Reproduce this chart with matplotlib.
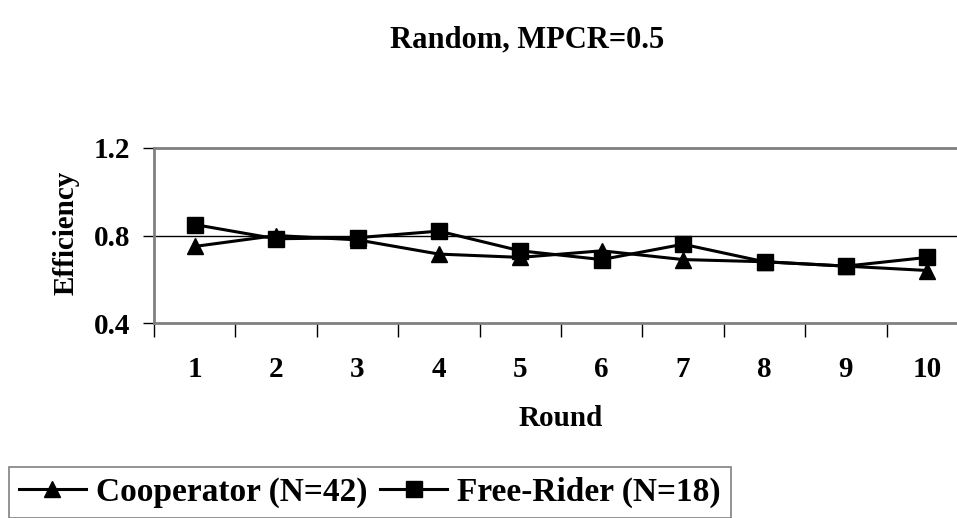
import numpy as np
import matplotlib.pyplot as plt

plt.rcParams['font.family'] = ['Liberation Serif', 'DejaVu Serif']
plt.rcParams['font.weight'] = 'bold'

rounds = np.arange(1, 11)
cooperator = [0.75, 0.80, 0.78, 0.715, 0.70, 0.73, 0.69, 0.68, 0.66, 0.64]
free_rider = [0.85, 0.785, 0.79, 0.82, 0.73, 0.69, 0.76, 0.68, 0.66, 0.70]

W, H = 957, 518
fig = plt.figure(figsize=(W / 100, H / 100), dpi=100)

# axes box in pixels: left 154, right 968, top 148, bottom 323
ax = fig.add_axes([154 / W, 1 - 323 / H, (968 - 154) / W, (323 - 148) / H])

ax.plot(rounds, cooperator, color='black', lw=2.2, marker='^', ms=11,
        label='Cooperator (N=42)')
ax.plot(rounds, free_rider, color='black', lw=2.2, marker='s', ms=11,
        label='Free-Rider (N=18)')

ax.set_xlim(0.5, 10.5)
ax.set_ylim(0.4, 1.2)
ax.set_yticks([0.4, 0.8, 1.2])
ax.set_yticklabels(['0.4', '0.8', '1.2'])
ax.axhline(0.8, color='black', lw=1, zorder=0)

# category ticks sit between the rounds, labels in the middle
ax.set_xticks(np.arange(0.5, 10.6, 1.0))
ax.set_xticklabels([])
ax.set_xticks(rounds, minor=True)
ax.set_xticklabels([str(r) for r in rounds], minor=True)
ax.tick_params(axis='x', which='major', direction='out', length=10, width=1)
ax.tick_params(axis='x', which='minor', length=0, pad=24, labelsize=21)
ax.tick_params(axis='y', direction='out', length=8, width=1, labelsize=21, pad=9)

for side in ['top', 'bottom']:
    ax.spines[side].set_color('#808080')
    ax.spines[side].set_linewidth(2)
ax.spines['left'].set_color('#808080')
ax.spines['left'].set_linewidth(2)
ax.spines['right'].set_visible(False)

fig.text(527 / W, 1 - 40 / H, 'Random, MPCR=0.5', ha='center', va='center',
         fontsize=22, fontweight='bold')
fig.text(561 / W, 1 - 418 / H, 'Round', ha='center', va='center',
         fontsize=21, fontweight='bold')
fig.text(66 / W, 1 - 233 / H, 'Efficiency', ha='center', va='center',
         rotation=90, fontsize=21, fontweight='bold')

leg = fig.legend(loc='lower left', bbox_to_anchor=(9 / W, 0), ncol=2,
                 frameon=True, fancybox=False, edgecolor='#606060',
                 prop={'size': 24, 'weight': 'bold'}, handlelength=2.0,
                 handletextpad=0.3, columnspacing=0.4, borderpad=0.3,
                 borderaxespad=0)
leg.get_frame().set_linewidth(1.2)

fig.savefig('out.png', dpi=100)
